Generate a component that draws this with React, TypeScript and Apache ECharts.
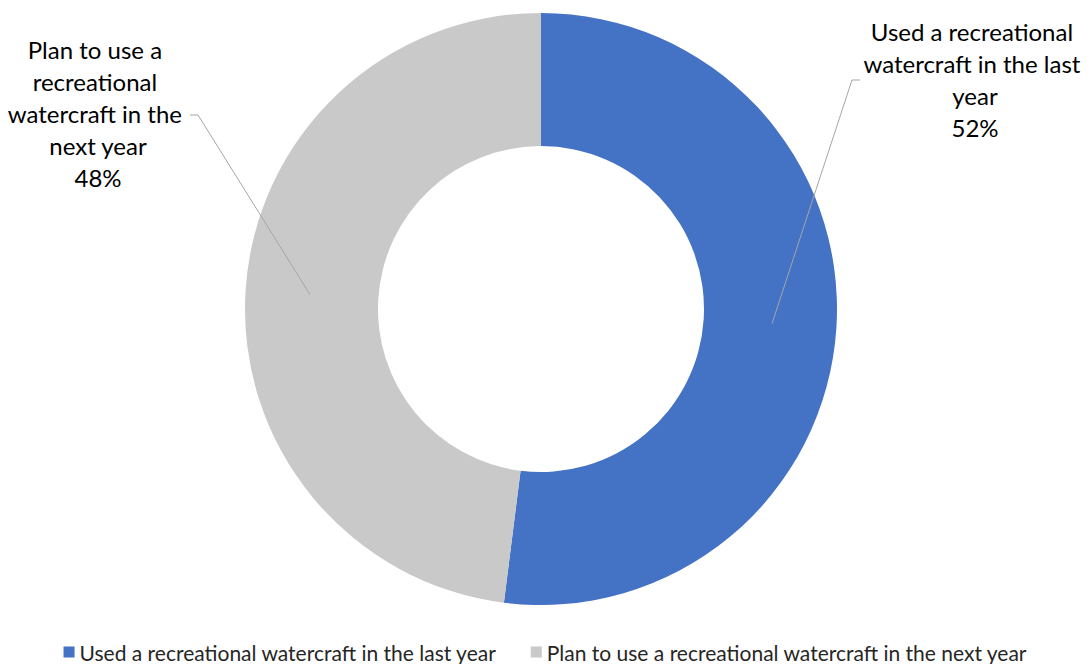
import React, { useEffect, useRef } from "react";
import * as echarts from "echarts";

const categories = [
  "Used a recreational watercraft in the last year",
  "Plan to use a recreational watercraft in the next year",
];
const values = [52, 48];
const colors = ["#4472C4", "#C9C9C9"];

export default function App() {
  const ref = useRef<HTMLDivElement>(null);
  useEffect(() => {
    document.body.style.margin = "0";
    const chart = echarts.init(ref.current!, null, { renderer: "svg" });
    const cx = 541;
    const cy = 309;
    const rIn = 163;
    const rOut = 296;
    const total = values.reduce((a, b) => a + b, 0);
    const mids: number[] = [];
    let acc = 0;
    values.forEach((v) => {
      mids.push(((acc + v / 2) / total) * Math.PI * 2);
      acc += v;
    });
    const labelPos = [
      { x: 975, y: 79, width: 226, elbow: [852, 80], end: [860, 80] },
      { x: 98, y: 113, width: 192, elbow: [198, 115], end: [190, 115] },
    ];
    const baseData = categories.map((name, i) => ({
      name,
      value: values[i],
      itemStyle: { color: colors[i] },
    }));
    chart.setOption({
      animation: false,
      textStyle: { fontFamily: "Lato" },
      legend: {
        top: 641,
        left: "center",
        padding: 0,
        icon: "rect",
        itemWidth: 11,
        itemHeight: 11,
        itemGap: 34,
        textStyle: {
          fontSize: 21,
          lineHeight: 22,
          color: "#262626",
          fontFamily: "Lato",
        },
        data: categories,
      },
      series: [
        {
          type: "pie",
          z: 2,
          center: [cx, cy],
          radius: [rIn, rOut],
          startAngle: 90,
          clockwise: true,
          label: { show: false },
          labelLine: { show: false },
          emphasis: { disabled: true },
          data: baseData,
        },
        {
          type: "pie",
          z: 5,
          center: [cx, cy],
          radius: [rIn, rOut],
          startAngle: 90,
          clockwise: true,
          silent: true,
          emphasis: { disabled: true },
          label: {
            show: true,
            position: "outside",
            formatter: "{b}\n{d}%",
            fontSize: 24,
            lineHeight: 32,
            color: "#000",
            align: "center",
            overflow: "break",
          },
          labelLine: {
            show: true,
            lineStyle: { color: "#A6A6A6", width: 1 },
          },
          labelLayout: (params: any) => {
            const i = params.dataIndex;
            const p = labelPos[i];
            const rm = (rIn + rOut) / 2 + 2;
            const a = mids[i];
            const ax = cx + rm * Math.sin(a);
            const ay = cy - rm * Math.cos(a);
            return {
              x: p.x,
              y: p.y,
              align: "center",
              verticalAlign: "middle",
              labelLinePoints: [[ax, ay], p.elbow, p.end],
            };
          },
          data: categories.map((name, i) => ({
            name,
            value: values[i],
            itemStyle: { color: "rgba(0,0,0,0)" },
            label: { width: labelPos[i].width },
          })),
        },
      ],
    });
    return () => chart.dispose();
  }, []);
  return (
    <div
      ref={ref}
      style={{ width: 1091, height: 664, position: "absolute", left: 0, top: 0 }}
    />
  );
}
